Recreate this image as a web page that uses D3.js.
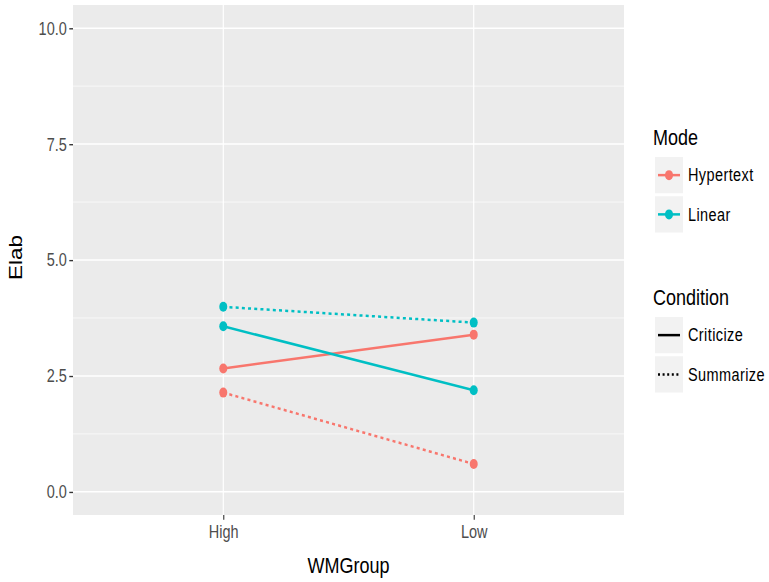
<!DOCTYPE html>
<html>
<head>
<meta charset="utf-8">
<script src="https://cdn.jsdelivr.net/npm/d3@7"></script>
<style>
  body { margin: 0; background: #fff; }
  svg { display: block; }
  text { font-family: "Liberation Sans", Arial, sans-serif; }
</style>
</head>
<body>
<svg id="chart"></svg>
<script>
// data
const wmGroups = ["High", "Low"];
const modes = ["Hypertext", "Linear"];
const conditions = ["Criticize", "Summarize"];
const hypertextCriticize = [2.66, 3.39];
const hypertextSummarize = [2.14, 0.60];
const linearCriticize = [3.57, 2.19];
const linearSummarize = [3.99, 3.65];
const yTicks = [0, 2.5, 5, 7.5, 10];
const yMinor = [1.25, 3.75, 6.25, 8.75];

const series = [
  { mode: "Hypertext", condition: "Criticize", values: hypertextCriticize },
  { mode: "Hypertext", condition: "Summarize", values: hypertextSummarize },
  { mode: "Linear", condition: "Criticize", values: linearCriticize },
  { mode: "Linear", condition: "Summarize", values: linearSummarize }
];

// the picture is stretched vertically, so draw in a shorter box and stretch it
const W = 769, H = 582, stretch = 1.25;
const innerH = H / stretch;

const svg = d3.select("#chart")
  .attr("width", W).attr("height", H)
  .attr("viewBox", `0 0 ${W} ${innerH}`)
  .attr("preserveAspectRatio", "none");

const panel = { left: 73, right: 624, top: 4, bottom: 412 };

const x = d3.scalePoint().domain(wmGroups)
  .range([panel.left, panel.right]).padding(0.6);
const y = d3.scaleLinear().domain([-0.5, 10.5])
  .range([panel.bottom, panel.top]);
const color = d3.scaleOrdinal().domain(modes).range(["#F8766D", "#00BFC4"]);
const dash = d3.scaleOrdinal().domain(conditions).range(["none", "3,3.2"]);

// panel background + grid
svg.append("rect")
  .attr("x", panel.left).attr("y", panel.top)
  .attr("width", panel.right - panel.left).attr("height", panel.bottom - panel.top)
  .attr("fill", "#EBEBEB");

svg.append("g").selectAll("line").data(yMinor).join("line")
  .attr("x1", panel.left).attr("x2", panel.right)
  .attr("y1", d => y(d)).attr("y2", d => y(d))
  .attr("stroke", "#fff").attr("stroke-width", 0.6);

svg.append("g").selectAll("line").data(yTicks).join("line")
  .attr("x1", panel.left).attr("x2", panel.right)
  .attr("y1", d => y(d)).attr("y2", d => y(d))
  .attr("stroke", "#fff").attr("stroke-width", 1.2);

svg.append("g").selectAll("line").data(wmGroups).join("line")
  .attr("x1", d => x(d)).attr("x2", d => x(d))
  .attr("y1", panel.top).attr("y2", panel.bottom)
  .attr("stroke", "#fff").attr("stroke-width", 1.2);

// axes
const yAxis = svg.append("g")
  .attr("transform", `translate(${panel.left},0)`)
  .call(d3.axisLeft(y).tickValues(yTicks).tickFormat(d3.format(".1f")).tickSize(3.7).tickPadding(2.5));
const xAxis = svg.append("g")
  .attr("transform", `translate(0,${panel.bottom})`)
  .call(d3.axisBottom(x).tickSize(3.7).tickPadding(4.5));

[yAxis, xAxis].forEach(ax => {
  ax.select(".domain").remove();
  ax.selectAll(".tick line").attr("stroke", "#333333").attr("stroke-width", 1.1);
  ax.selectAll(".tick text")
    .attr("fill", "#4D4D4D")
    .style("font-size", "14.5px")
    .style("font-family", "'Liberation Sans', Arial, sans-serif");
});

// axis titles
svg.append("text")
  .attr("x", (panel.left + panel.right) / 2).attr("y", 458.5)
  .attr("text-anchor", "middle")
  .style("font-size", "18px")
  .text("WMGroup");

svg.append("text")
  .attr("transform", `translate(22,${(panel.top + panel.bottom) / 2 - 2}) rotate(-90)`)
  .attr("text-anchor", "middle")
  .style("font-size", "18px")
  .text("Elab");

// lines and points
const line = d3.line()
  .x((d, i) => x(wmGroups[i]))
  .y(d => y(d));

svg.append("g").selectAll("path").data(series).join("path")
  .attr("d", d => line(d.values))
  .attr("fill", "none")
  .attr("stroke", d => color(d.mode))
  .attr("stroke-width", 2)
  .attr("stroke-dasharray", d => dash(d.condition));

svg.append("g").selectAll("circle")
  .data(series.flatMap(s => s.values.map((v, i) => ({ mode: s.mode, g: wmGroups[i], v }))))
  .join("circle")
  .attr("cx", d => x(d.g)).attr("cy", d => y(d.v))
  .attr("r", 4)
  .attr("fill", d => color(d.mode));

// legends
const keyW = 28, keyH = 29, keyGap = 2.4;
const legX = 655;

function legend(top, title, items, drawKey) {
  const g = svg.append("g");
  g.append("text").attr("x", legX - 2).attr("y", top)
    .style("font-size", "18px").text(title);
  items.forEach((item, i) => {
    const ky = top + 9.6 + i * (keyH + keyGap);
    g.append("rect")
      .attr("x", legX).attr("y", ky)
      .attr("width", keyW).attr("height", keyH)
      .attr("fill", "#F2F2F2");
    drawKey(g, item, ky + keyH / 2);
    g.append("text")
      .attr("x", legX + keyW + 5).attr("y", ky + keyH / 2 + 5)
      .style("font-size", "14.5px")
      .style("letter-spacing", "0.4px")
      .text(item);
  });
}

legend(116, "Mode", modes, (g, m, cy) => {
  g.append("line")
    .attr("x1", legX + 3).attr("x2", legX + keyW - 3)
    .attr("y1", cy).attr("y2", cy)
    .attr("stroke", color(m)).attr("stroke-width", 2);
  g.append("circle")
    .attr("cx", legX + keyW / 2).attr("cy", cy).attr("r", 4)
    .attr("fill", color(m));
});

legend(244, "Condition", conditions, (g, c, cy) => {
  g.append("line")
    .attr("x1", legX + 3).attr("x2", legX + keyW - 3)
    .attr("y1", cy).attr("y2", cy)
    .attr("stroke", "#000").attr("stroke-width", 2)
    .attr("stroke-dasharray", dash(c) === "none" ? null : "2,2.6");
});
</script>
</body>
</html>
